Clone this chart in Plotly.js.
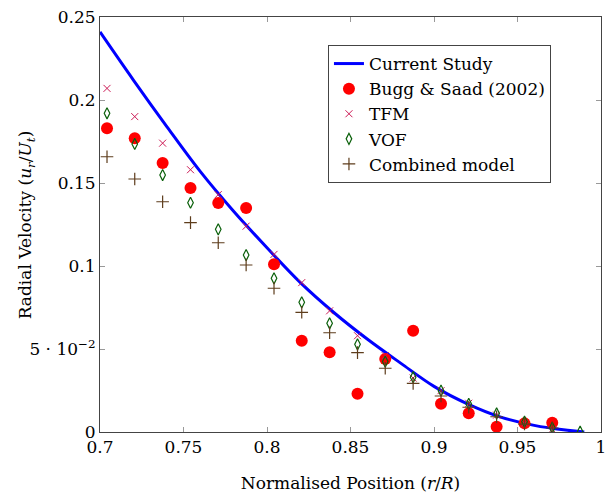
<!DOCTYPE html>
<html>
<head>
<meta charset="utf-8">
<script src="https://cdn.plot.ly/plotly-3.0.1.min.js"></script>
<style>html,body{margin:0;padding:0;background:#fff;}#chart{width:614px;height:495px;}</style>
</head>
<body>
<div id="chart"></div>
<script>
// Current Study (continuous line)
const studyX = [0.70, 0.72, 0.74, 0.76, 0.78, 0.80, 0.82, 0.84, 0.86, 0.88, 0.90, 0.92, 0.94, 0.96, 0.98, 0.99];
const studyY = [0.241, 0.212, 0.184, 0.157, 0.133, 0.111, 0.090, 0.072, 0.056, 0.0415, 0.0275, 0.017, 0.009, 0.004, 0.001, 0.0];

// Discrete positions of comparison data
const posX = [0.7042, 0.7208, 0.7375, 0.7542, 0.7708, 0.7875, 0.8042, 0.8208, 0.8375, 0.8542, 0.8708, 0.8875, 0.9042, 0.9208, 0.9375, 0.9542, 0.9708, 0.9875];

const buggX = posX.slice(0, 17);
const buggY = [0.183, 0.177, 0.162, 0.147, 0.138, 0.135, 0.101, 0.055, 0.048, 0.023, 0.044, 0.061, 0.017, 0.0113, 0.0032, 0.0052, 0.0056];

const tfmX = posX.slice(0, 17);
const tfmY = [0.207, 0.190, 0.174, 0.158, 0.143, 0.124, 0.107, 0.090, 0.073, 0.058, 0.046, 0.0325, 0.0249, 0.0173, 0.0102, 0.0052, 0.0016];

const vofX = posX;
const vofY = [0.192, 0.1735, 0.1548, 0.1381, 0.1221, 0.1066, 0.0926, 0.0781, 0.0655, 0.0528, 0.0424, 0.033, 0.0249, 0.0169, 0.0112, 0.0062, 0.0026, 0.0002];

const combX = posX.slice(0, 17);
const combY = [0.1658, 0.1524, 0.1387, 0.1261, 0.114, 0.1006, 0.0866, 0.0721, 0.0598, 0.0478, 0.0384, 0.0293, 0.0217, 0.0149, 0.0092, 0.0048, 0.0024];

const xTicks = [0.7, 0.75, 0.8, 0.85, 0.9, 0.95, 1];
const xTickText = ["0.7", "0.75", "0.8", "0.85", "0.9", "0.95", "1"];
const yTicks = [0, 0.05, 0.1, 0.15, 0.2, 0.25];
const yTickText = ["0", "5 · 10<sup>−2</sup>", "0.1", "0.15", "0.2", "0.25"];

const serif = "DejaVu Serif";

const traces = [
  {x: studyX, y: studyY, type: 'scatter', mode: 'lines', name: 'Current Study',
   line: {color: '#0000ff', width: 3, shape: 'spline'}},
  {x: buggX, y: buggY, type: 'scatter', mode: 'markers', name: 'Bugg &amp; Saad (2002)',
   marker: {color: '#ff0000', size: 12, symbol: 'circle'}},
  {x: tfmX, y: tfmY, type: 'scatter', mode: 'markers', name: 'TFM',
   marker: {color: '#cc1a55', size: 7, symbol: 'x-thin', line: {color: '#cc1a55', width: 1}}},
  {x: vofX, y: vofY, type: 'scatter', mode: 'markers', name: 'VOF',
   marker: {color: '#0a600a', size: 8, symbol: 'diamond-tall-open', line: {color: '#0a600a', width: 1.2}}},
  {x: combX, y: combY, type: 'scatter', mode: 'markers', name: 'Combined model',
   marker: {color: '#5e3d1c', size: 9, symbol: 'cross-thin', line: {color: '#5e3d1c', width: 1.2}}}
];

const layout = {
  width: 614, height: 495,
  margin: {l: 100, r: 13, t: 17, b: 63},
  paper_bgcolor: '#fff', plot_bgcolor: '#fff',
  font: {family: serif, size: 17, color: '#000'},
  showlegend: true,
  legend: {x: 0.455, y: 0.9325, xanchor: 'left', yanchor: 'top',
           bordercolor: '#444', borderwidth: 1, bgcolor: '#fff',
           font: {family: serif, size: 17}},
  xaxis: {range: [0.7, 1], tickvals: xTicks, ticktext: xTickText,
          ticks: 'inside', ticklen: 5, tickcolor: '#999', showgrid: false, zeroline: false,
          showline: true, linecolor: '#444', linewidth: 1, mirror: 'ticks',
          tickfont: {family: serif, size: 17},
          title: {text: 'Normalised Position (<i>r</i>/<i>R</i>)', font: {family: serif, size: 17}, standoff: 20}},
  yaxis: {range: [0, 0.25], tickvals: yTicks, ticktext: yTickText,
          ticks: 'inside', ticklen: 5, tickcolor: '#999', showgrid: false, zeroline: false,
          showline: true, linecolor: '#444', linewidth: 1, mirror: 'ticks',
          tickfont: {family: serif, size: 17}},
  annotations: [
    {text: 'Radial Velocity (<i>u<sub>r</sub></i>/<i>U<sub>t</sub></i>)', xref: 'paper', yref: 'paper',
     x: -0.146, y: 0.5, xanchor: 'center', yanchor: 'middle', textangle: -90, showarrow: false,
     font: {family: serif, size: 17, color: '#000'}}
  ]
};

Plotly.newPlot('chart', traces, layout, {displayModeBar: false, staticPlot: true});
</script>
</body>
</html>
